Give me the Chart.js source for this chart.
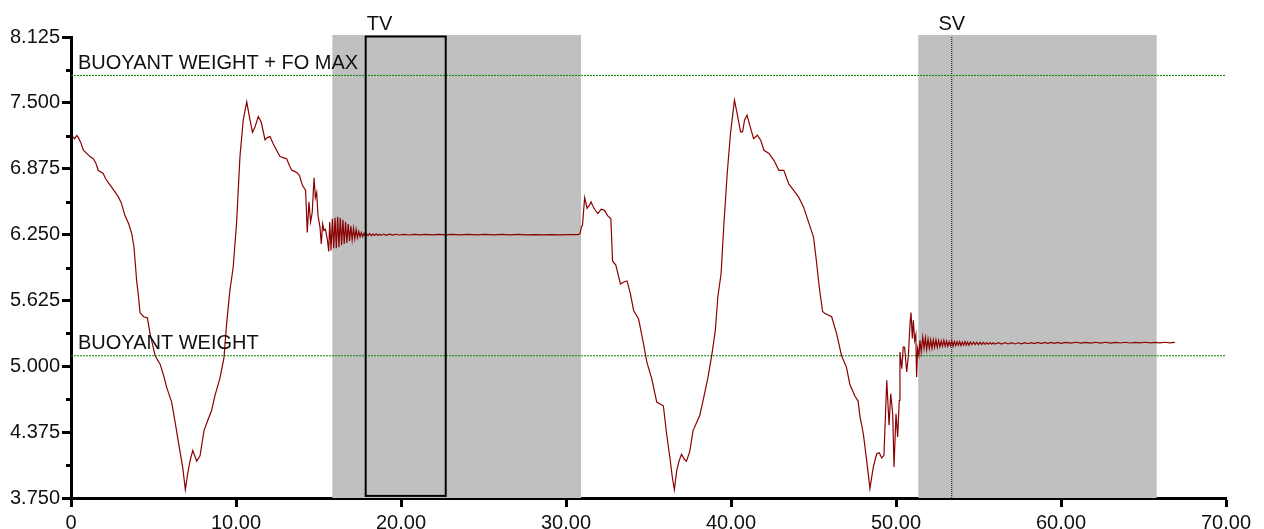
<!DOCTYPE html>
<html>
<head>
<meta charset="utf-8">
<script src="https://cdn.jsdelivr.net/npm/chart.js@4/dist/chart.umd.min.js"></script>
<style>
    html, body { margin: 0; padding: 0; background: #fff; }
</style>
</head>
<body>
<canvas id="grafica-peso" width="1264" height="529"></canvas>
<script>
// valores: tiempo (eje x) y peso (eje y)
const tiempo = [
    0.10, 0.22, 0.35, 0.45, 0.60, 0.75, 0.95, 1.15, 1.35, 1.50,
    1.65, 1.95, 2.10, 2.37, 2.60, 2.86, 3.05, 3.27, 3.50, 3.68,
    3.82, 3.98, 4.10, 4.18, 4.40, 4.63, 4.79, 5.10, 5.40, 5.60,
    5.80, 6.10, 6.30, 6.50, 6.77, 6.93, 7.07, 7.21, 7.38, 7.62,
    7.82, 8.06, 8.32, 8.52, 8.72, 9.03, 9.27, 9.43, 9.63, 9.83,
    10.03, 10.24, 10.44, 10.65, 10.81, 11.00, 11.15, 11.35, 11.52, 11.76,
    11.90, 12.06, 12.26, 12.46, 12.67, 12.85, 13.07, 13.25, 13.38, 13.55,
    13.68, 13.85, 14.02, 14.22, 14.32, 14.42, 14.52, 14.62, 14.73, 14.81,
    14.89, 14.97, 15.09, 15.17, 15.25, 15.33, 15.42, 15.54, 15.62,
    // oscilacion al entrar en TV
    15.68, 15.76, 15.84, 15.92, 16.00, 16.08, 16.16, 16.24, 16.32, 16.40,
    16.48, 16.56, 16.64, 16.72, 16.80, 16.88, 16.96, 17.04, 17.12, 17.20,
    17.28, 17.36, 17.44, 17.52, 17.60, 17.68,
    17.76, 17.84, 17.92, 18.00, 18.10, 18.20, 18.30, 18.40, 18.50, 18.60,
    18.70, 18.80, 18.95, 19.10, 19.30, 19.50, 19.70, 19.90, 20.20, 20.50,
    20.80, 21.10, 21.50, 21.90, 22.30, 22.70, 23.10, 23.60, 24.10, 24.60,
    25.10, 25.60, 26.10, 26.60, 27.10, 27.60, 28.10, 28.60, 29.10, 29.60,
    30.10, 30.50,
    // segundo ciclo
    30.75, 30.85, 30.93, 31.00, 31.13, 31.28, 31.42, 31.52, 31.60, 31.73,
    31.93, 32.13, 32.33, 32.52, 32.72, 32.82, 33.02, 33.30, 33.50, 33.70,
    33.90, 34.10, 34.40, 34.70, 34.90, 35.20, 35.50, 35.90, 36.10, 36.30,
    36.45, 36.57, 36.71, 36.85, 37.00, 37.16, 37.30, 37.50, 37.70, 37.87,
    38.10, 38.30, 38.60, 38.85, 39.05, 39.20, 39.40, 39.57, 39.77, 39.97,
    40.21, 40.37, 40.58, 40.70, 40.82, 40.97, 41.17, 41.37, 41.60, 41.80,
    42.00, 42.30, 42.60, 42.90, 43.20, 43.50, 43.80, 44.10, 44.40, 44.70,
    45.00, 45.15, 45.35, 45.55, 45.70, 46.10, 46.40, 46.70, 47.00, 47.20,
    47.50, 47.70, 47.82, 48.02, 48.22, 48.42, 48.62, 48.83, 48.99, 49.13,
    49.27, 49.44, 49.58, 49.68, 49.80, 49.88, 50.00, 50.10, 50.20, 50.24,
    50.35, 50.44, 50.52, 50.65, 50.75, 50.85, 50.91, 50.99, 51.05, 51.13,
    51.20, 51.25, 51.31, 51.39, 51.45, 51.53, 51.62,
    // oscilacion en SV
    51.70, 51.78, 51.86, 51.94, 52.02, 52.10, 52.18, 52.26, 52.34, 52.42,
    52.50, 52.58, 52.66, 52.74, 52.82, 52.90, 52.98, 53.06, 53.14, 53.22,
    53.30, 53.38, 53.46, 53.54, 53.62, 53.70, 53.78, 53.86, 53.94, 54.02,
    54.10, 54.18, 54.26, 54.34, 54.42, 54.50, 54.60, 54.70, 54.80, 54.90,
    55.00, 55.10, 55.20, 55.30, 55.40, 55.50, 55.60, 55.70, 55.80, 55.90,
    56.00, 56.20, 56.40, 56.60, 56.80, 57.00, 57.20, 57.40, 57.60, 57.80,
    58.00, 58.20, 58.40, 58.60, 58.80, 59.00, 59.20, 59.40, 59.60, 59.80,
    60.00, 60.30, 60.60, 60.90, 61.20, 61.50, 61.80, 62.10, 62.40, 62.70,
    63.00, 63.30, 63.60, 63.90, 64.20, 64.50, 64.80, 65.10, 65.40, 65.70,
    66.00, 66.30, 66.60, 66.90
];
const peso = [
    7.18, 7.16, 7.19, 7.17, 7.12, 7.05, 7.02, 6.99, 6.97, 6.93,
    6.86, 6.83, 6.78, 6.72, 6.67, 6.61, 6.55, 6.43, 6.35, 6.26,
    6.13, 5.81, 5.65, 5.51, 5.47, 5.46, 5.31, 5.10, 5.02, 4.92,
    4.80, 4.66, 4.48, 4.29, 4.04, 3.83, 3.98, 4.10, 4.20, 4.10,
    4.15, 4.39, 4.50, 4.58, 4.72, 4.89, 5.08, 5.40, 5.72, 5.94,
    6.35, 6.99, 7.34, 7.51, 7.37, 7.22, 7.27, 7.37, 7.32, 7.15,
    7.17, 7.18, 7.11, 7.05, 6.99, 6.98, 6.97, 6.90, 6.86, 6.85,
    6.84, 6.81, 6.72, 6.67, 6.27, 6.56, 6.37, 6.46, 6.79, 6.60,
    6.65, 6.43, 6.32, 6.16, 6.35, 6.29, 6.30, 6.20, 6.09,
    6.37, 6.10, 6.40, 6.12, 6.41, 6.12, 6.42, 6.13, 6.41, 6.15,
    6.39, 6.16, 6.37, 6.17, 6.35, 6.19, 6.33, 6.20, 6.31, 6.21,
    6.30, 6.22, 6.28, 6.23, 6.27, 6.23,
    6.262, 6.237, 6.256, 6.240, 6.260, 6.238, 6.256, 6.242, 6.257, 6.242,
    6.254, 6.244, 6.255, 6.243, 6.254, 6.245, 6.253, 6.246, 6.252, 6.246,
    6.252, 6.247, 6.252, 6.247, 6.251, 6.247, 6.251, 6.248, 6.251, 6.248,
    6.251, 6.248, 6.251, 6.248, 6.251, 6.248, 6.250, 6.248, 6.250, 6.248,
    6.250, 6.249,
    6.25, 6.26, 6.32, 6.34, 6.60, 6.50, 6.53, 6.56, 6.53, 6.49,
    6.45, 6.49, 6.48, 6.43, 6.40, 6.00, 5.96, 5.78, 5.80, 5.81,
    5.69, 5.53, 5.45, 5.21, 5.04, 4.88, 4.66, 4.625, 4.355, 4.13,
    3.94, 3.83, 4.01, 4.10, 4.165, 4.12, 4.10, 4.19, 4.39, 4.45,
    4.53, 4.67, 4.89, 5.12, 5.34, 5.655, 5.88, 6.35, 6.83, 7.21,
    7.526, 7.40, 7.224, 7.224, 7.335, 7.383, 7.27, 7.16, 7.193, 7.145,
    7.05, 7.02, 6.955, 6.86, 6.86, 6.73, 6.67, 6.606, 6.51, 6.368,
    6.226, 6.035, 5.75, 5.52, 5.50, 5.47, 5.31, 5.10, 4.99, 4.83,
    4.72, 4.67, 4.52, 4.36, 4.11, 3.84, 4.04, 4.17, 4.18, 4.13,
    4.155, 4.867, 4.44, 4.74, 4.55, 4.044, 4.55, 4.329, 4.677, 5.136,
    4.978, 5.183, 5.18, 4.946, 5.104, 5.405, 5.509, 5.263, 5.436, 5.247,
    5.30, 4.898, 5.168, 5.104, 5.247, 5.136, 5.278,
    5.17, 5.27, 5.16, 5.26, 5.17, 5.25, 5.17, 5.25, 5.18, 5.25,
    5.18, 5.245, 5.185, 5.24, 5.19, 5.245, 5.19, 5.24, 5.19, 5.235,
    5.195, 5.24, 5.19, 5.235, 5.195, 5.235, 5.20, 5.235, 5.195, 5.23,
    5.20, 5.235, 5.20, 5.23, 5.20, 5.23, 5.205, 5.23, 5.205, 5.228,
    5.205, 5.228, 5.207, 5.226, 5.208, 5.225, 5.21, 5.225, 5.21, 5.224,
    5.21, 5.224, 5.21, 5.225, 5.212, 5.224, 5.212, 5.223, 5.213, 5.224,
    5.214, 5.225, 5.215, 5.226, 5.216, 5.226, 5.217, 5.226, 5.218, 5.227,
    5.218, 5.227, 5.219, 5.228, 5.219, 5.227, 5.220, 5.228, 5.220, 5.228,
    5.220, 5.227, 5.221, 5.228, 5.221, 5.227, 5.222, 5.228, 5.222, 5.227,
    5.222, 5.228, 5.223, 5.226
];

// niveles de referencia
const pesoBoyante = 5.10;
const pesoBoyanteFo = 7.76;

// zonas sombreadas, caja TV y linea SV
const zonaInicio = [15.84, 51.35];
const zonaFin = [30.91, 65.80];
const cajaTV = [17.86, 22.71];
const lineaSV = 53.38;

const yMin = 3.75;
const yMax = 8.125;
const xMin = 0;
const xMax = 70;

const fuente = "'Liberation Sans', Arial, sans-serif";

const puntos = tiempo.map((t, i) => ({ x: t, y: peso[i] }));

const extras = {
    id: 'extras',
    beforeDatasetsDraw(chart) {
        const { ctx, chartArea, scales } = chart;
        ctx.save();
        ctx.fillStyle = '#c0c0c0';
        zonaInicio.forEach((inicio, i) => {
            const x0 = scales.x.getPixelForValue(inicio);
            const x1 = scales.x.getPixelForValue(zonaFin[i]);
            ctx.fillRect(x0, chartArea.top - 2, x1 - x0, chartArea.bottom - chartArea.top + 2);
        });
        ctx.restore();
    },
    afterDatasetsDraw(chart) {
        const { ctx, chartArea, scales } = chart;
        ctx.save();

        // caja TV
        const x0 = scales.x.getPixelForValue(cajaTV[0]);
        const x1 = scales.x.getPixelForValue(cajaTV[1]);
        const yTop = chartArea.top - 0.5;
        const yBot = scales.y.getPixelForValue(3.77);
        ctx.strokeStyle = '#000';
        ctx.lineWidth = 2;
        ctx.strokeRect(x0, yTop, x1 - x0, yBot - yTop);

        // ticks menores del eje y
        ctx.lineWidth = 3;
        ctx.beginPath();
        for (let v = yMin + 0.3125; v < yMax; v += 0.625) {
            const py = Math.round(scales.y.getPixelForValue(v)) + 0.5;
            ctx.moveTo(chartArea.left - 5, py);
            ctx.lineTo(chartArea.left, py);
        }
        ctx.stroke();

        // textos
        ctx.fillStyle = '#111';
        ctx.font = '20px ' + fuente;
        ctx.textBaseline = 'alphabetic';
        ctx.textAlign = 'left';
        const xt = scales.x.getPixelForValue(0.42);
        ctx.fillText('BUOYANT WEIGHT + FO MAX', xt, scales.y.getPixelForValue(pesoBoyanteFo) - 6);
        ctx.fillText('BUOYANT WEIGHT', xt, scales.y.getPixelForValue(pesoBoyante) - 7);
        ctx.fillText('TV', x0 + 1, chartArea.top - 7);
        ctx.textAlign = 'center';
        ctx.fillText('SV', scales.x.getPixelForValue(lineaSV), chartArea.top - 7);

        ctx.restore();
    }
};

const ctx = document.getElementById('grafica-peso');

const data = {
    datasets: [
        {
            label: 'peso',
            data: puntos,
            borderColor: '#8b0000',
            borderWidth: 1.2,
            pointRadius: 0,
            tension: 0,
            order: 1
        },
        {
            label: 'buoyant weight',
            data: [{ x: xMin, y: pesoBoyante }, { x: xMax, y: pesoBoyante }],
            borderColor: '#008a00',
            borderWidth: 1,
            borderDash: [2, 1],
            pointRadius: 0,
            order: 2
        },
        {
            label: 'buoyant weight + fo max',
            data: [{ x: xMin, y: pesoBoyanteFo }, { x: xMax, y: pesoBoyanteFo }],
            borderColor: '#008a00',
            borderWidth: 1,
            borderDash: [2, 1],
            pointRadius: 0,
            order: 2
        },
        {
            label: 'SV',
            data: [{ x: lineaSV, y: yMin }, { x: lineaSV, y: yMax }],
            borderColor: '#000',
            borderWidth: 1,
            borderDash: [1, 1],
            pointRadius: 0,
            order: 3
        }
    ]
};

const config = {
    type: 'line',
    data: data,
    options: {
        responsive: false,
        animation: false,
        events: [],
        layout: {
            padding: { top: 37, right: 38, left: 0, bottom: 0 }
        },
        plugins: {
            legend: { display: false },
            tooltip: { enabled: false },
            title: { display: false }
        },
        scales: {
            x: {
                type: 'linear',
                min: xMin,
                max: xMax,
                afterFit(scale) { scale.height = 31; },
                border: { color: '#000', width: 3 },
                grid: {
                    drawOnChartArea: false,
                    drawTicks: true,
                    tickLength: 9,
                    tickWidth: 3,
                    tickColor: '#000'
                },
                ticks: {
                    stepSize: 10,
                    padding: 4,
                    color: '#111',
                    maxRotation: 0,
                    font: { family: fuente, size: 20 },
                    callback: v => v === 0 ? '0' : v.toFixed(2)
                }
            },
            y: {
                min: yMin,
                max: yMax,
                afterFit(scale) { scale.width = 71; },
                border: { color: '#000', width: 3 },
                grid: {
                    drawOnChartArea: false,
                    drawTicks: true,
                    tickLength: 9,
                    tickWidth: 3,
                    tickColor: '#000'
                },
                ticks: {
                    stepSize: 0.625,
                    padding: 2,
                    color: '#111',
                    font: { family: fuente, size: 20 },
                    callback: v => v.toFixed(3)
                }
            }
        }
    },
    plugins: [extras]
};

new Chart(ctx, config);
</script>
</body>
</html>
